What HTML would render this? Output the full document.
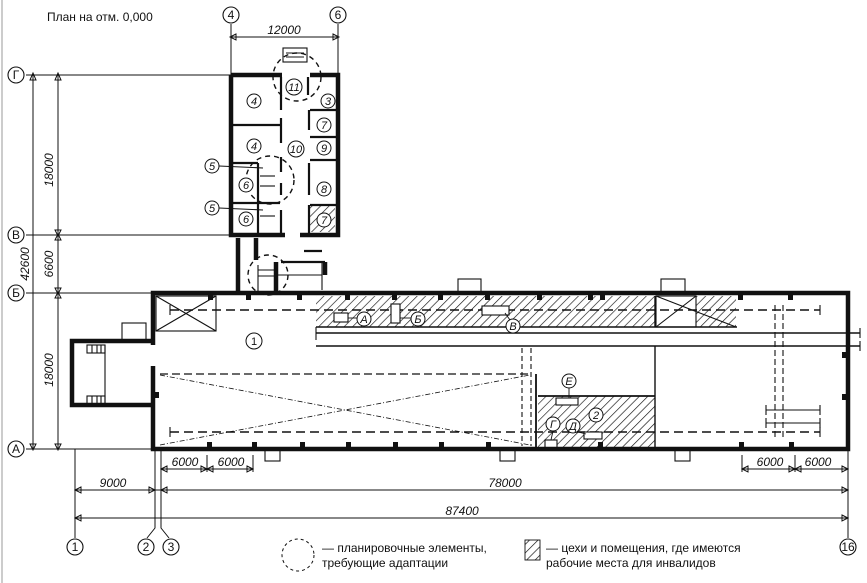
<!DOCTYPE html>
<html><head><meta charset="utf-8"><style>
html,body{margin:0;padding:0;background:#fff}
svg{display:block}
text{font-family:"Liberation Sans",sans-serif;fill:#111}
.it{font-style:italic}
</style></head><body>
<svg width="867" height="583" viewBox="0 0 867 583" xmlns="http://www.w3.org/2000/svg">
<defs>
<pattern id="h" patternUnits="userSpaceOnUse" width="6" height="6" patternTransform="rotate(45)">
<line x1="0" y1="0" x2="0" y2="6" stroke="#111" stroke-width="1.3"/>
</pattern>
</defs>
<line x1="2" y1="0" x2="2" y2="583" stroke="#999" stroke-width="1"/>
<text x="47" y="21" font-size="12">План на отм. 0,000</text>

<rect x="316" y="296" width="339" height="31" fill="url(#h)"/>
<rect x="696" y="296" width="40" height="31" fill="url(#h)"/>
<rect x="538" y="396" width="117" height="51" fill="url(#h)"/>
<rect x="309" y="206" width="26" height="26" fill="url(#h)"/>

<g stroke="#111" fill="none" stroke-width="1">
<line x1="26" y1="75" x2="231" y2="75"/>
<line x1="26" y1="235" x2="231" y2="235"/>
<line x1="26" y1="293" x2="153" y2="293"/>
<line x1="26" y1="449" x2="153" y2="449"/>
<line x1="33" y1="75" x2="33" y2="449"/>
<line x1="58" y1="75" x2="58" y2="449"/>
<line x1="231" y1="24" x2="231" y2="75"/>
<line x1="338" y1="24" x2="338" y2="75"/>
<line x1="231" y1="37" x2="338" y2="37"/>
<line x1="75" y1="449" x2="75" y2="538"/>
<path d="M155 449 V528 L147 538 M161 449 V528 L169 538"/>
<line x1="848" y1="449" x2="848" y2="538"/>
<line x1="75" y1="490" x2="848" y2="490"/>
<line x1="75" y1="518" x2="848" y2="518"/>
<line x1="161" y1="469" x2="253" y2="469"/>
<line x1="207" y1="455" x2="207" y2="472"/>
<line x1="253" y1="455" x2="253" y2="472"/>
<line x1="742" y1="469" x2="848" y2="469"/>
<line x1="742" y1="455" x2="742" y2="472"/>
<line x1="795" y1="455" x2="795" y2="472"/>
</g>
<g fill="none" stroke="#111" stroke-width="1">
<path d="M30 80 L33 73 L36 80Z M55 80 L58 73 L61 80Z M55 230 L58 236 L61 230Z M55 240 L58 234 L61 240Z M55 288 L58 294 L61 288Z M55 298 L58 292 L61 298Z M55 444 L58 450 L61 444Z M30 444 L33 450 L36 444Z"/>
<path d="M236 34 L230 37 L236 40Z M333 34 L339 37 L333 40Z"/>
<path d="M81 487 L75 490 L81 493Z M149 487 L155 490 L149 493Z M167 487 L161 490 L167 493Z M842 487 L848 490 L842 493Z"/>
<path d="M81 515 L75 518 L81 521Z M842 515 L848 518 L842 521Z"/>
<path d="M167 466 L161 469 L167 472Z M201 466 L207 469 L201 472Z M213 466 L207 469 L213 472Z M247 466 L253 469 L247 472Z"/>
<path d="M748 466 L742 469 L748 472Z M789 466 L795 469 L789 472Z M801 466 L795 469 L801 472Z M842 466 L848 469 L842 472Z"/>
</g>
<g font-size="12" class="it">
<text x="53" y="170" transform="rotate(-90 53 170)" text-anchor="middle">18000</text>
<text x="53" y="264" transform="rotate(-90 53 264)" text-anchor="middle">6600</text>
<text x="53" y="370" transform="rotate(-90 53 370)" text-anchor="middle">18000</text>
<text x="29" y="264" transform="rotate(-90 29 264)" text-anchor="middle">42600</text>
<text x="284" y="34" text-anchor="middle">12000</text>
<text x="113" y="487" text-anchor="middle">9000</text>
<text x="505" y="487" text-anchor="middle">78000</text>
<text x="462" y="515" text-anchor="middle">87400</text>
<text x="185" y="466" text-anchor="middle">6000</text>
<text x="231" y="466" text-anchor="middle">6000</text>
<text x="770" y="466" text-anchor="middle">6000</text>
<text x="818" y="466" text-anchor="middle">6000</text>
</g>
<g fill="#fff" stroke="#111" stroke-width="1.1">
<circle cx="16" cy="75" r="8"/><circle cx="16" cy="235" r="8"/><circle cx="16" cy="293" r="8"/><circle cx="16" cy="449" r="8"/>
<circle cx="231" cy="15" r="8"/><circle cx="338" cy="15" r="8"/>
<circle cx="75" cy="547" r="8"/><circle cx="146" cy="547" r="8"/><circle cx="171" cy="547" r="8"/><circle cx="848" cy="547" r="8"/>
</g>
<g font-size="12" text-anchor="middle">
<text x="16" y="79">Г</text><text x="16" y="239">В</text><text x="16" y="297">Б</text><text x="16" y="453">А</text>
<text x="231" y="19">4</text><text x="338" y="19">6</text>
<text x="75" y="551">1</text><text x="146" y="551">2</text><text x="171" y="551">3</text><text x="848" y="551">16</text>
</g>

<g stroke="#111" fill="none" stroke-width="1.1">
<line x1="170" y1="310" x2="820" y2="310" stroke-width="1.6" stroke-dasharray="9,5"/>
<line x1="170" y1="432" x2="820" y2="432" stroke-width="1.6" stroke-dasharray="9,5"/>
<line x1="160" y1="374" x2="530" y2="374" stroke-width="1.2" stroke-dasharray="8,4"/>
<line x1="160" y1="375" x2="530" y2="445" stroke-width="0.8" stroke-dasharray="5,2,1,2"/>
<line x1="160" y1="445" x2="530" y2="375" stroke-width="0.8" stroke-dasharray="5,2,1,2"/>
<line x1="170" y1="305" x2="170" y2="315"/><line x1="820" y1="305" x2="820" y2="315"/>
<line x1="170" y1="427" x2="170" y2="437"/><line x1="820" y1="427" x2="820" y2="437"/>
<line x1="316" y1="333" x2="860" y2="333" stroke-width="1.4"/>
<line x1="316" y1="346" x2="860" y2="346" stroke-width="1.4"/>
<line x1="316" y1="327" x2="316" y2="340"/>
<line x1="860" y1="328" x2="860" y2="338"/><line x1="860" y1="341" x2="860" y2="351"/>
<line x1="316" y1="327" x2="655" y2="327" stroke-width="1.4"/>
<line x1="655" y1="346" x2="655" y2="449" stroke-width="1.4"/>
<line x1="655" y1="296" x2="655" y2="327" stroke-width="1.4"/>
<line x1="655" y1="327" x2="737" y2="327" stroke-width="1.4"/>
<line x1="538" y1="396" x2="655" y2="396" stroke-width="1.8"/>
<line x1="536" y1="374" x2="536" y2="447" stroke-width="1.8"/>
<line x1="522" y1="348" x2="522" y2="446" stroke-dasharray="5,3"/>
<line x1="531" y1="348" x2="531" y2="446" stroke-dasharray="5,3"/>
<line x1="775" y1="305" x2="775" y2="440" stroke-dasharray="6,3"/>
<line x1="783" y1="305" x2="783" y2="440" stroke-dasharray="6,3"/>
<line x1="766" y1="410" x2="820" y2="410"/><line x1="766" y1="423" x2="820" y2="423"/>
<line x1="766" y1="405" x2="766" y2="415"/><line x1="820" y1="405" x2="820" y2="415"/>
<line x1="766" y1="418" x2="766" y2="428"/><line x1="820" y1="418" x2="820" y2="428"/>
<rect x="156" y="296" width="60" height="35"/>
<line x1="156" y1="296" x2="216" y2="331"/><line x1="156" y1="331" x2="216" y2="296"/>
<rect x="656" y="296" width="40" height="31"/>
<line x1="656" y1="296" x2="736" y2="327"/><line x1="656" y1="327" x2="696" y2="296"/>
<rect x="334" y="313" width="14" height="9" fill="#fff"/>
<rect x="391" y="304" width="9" height="19" fill="#fff"/>
<rect x="482" y="306" width="27" height="9" fill="#fff"/>
<rect x="556" y="398" width="22" height="7" fill="#fff"/>
<rect x="584" y="432" width="18" height="7" fill="#fff"/>
<rect x="545" y="440" width="12" height="8" fill="#fff"/>
<rect x="458" y="279" width="23" height="14"/>
<rect x="661" y="279" width="24" height="14"/>
<rect x="122" y="323" width="24" height="17"/>
<rect x="265" y="449" width="15" height="12"/>
<rect x="500" y="449" width="15" height="12"/>
<rect x="675" y="449" width="15" height="12"/>
<line x1="105" y1="345" x2="105" y2="403"/>
<rect x="87" y="345" width="18" height="8"/><rect x="87" y="396" width="18" height="8"/>
<line x1="92" y1="345" x2="92" y2="353"/><line x1="97" y1="345" x2="97" y2="353"/><line x1="101" y1="345" x2="101" y2="353"/>
<line x1="92" y1="396" x2="92" y2="404"/><line x1="97" y1="396" x2="97" y2="404"/><line x1="101" y1="396" x2="101" y2="404"/>
<rect x="283" y="48" width="24" height="14"/>
<line x1="286" y1="53" x2="304" y2="53"/><line x1="286" y1="57" x2="304" y2="57"/>
<line x1="258" y1="265" x2="258" y2="293"/>
<line x1="258" y1="270" x2="276" y2="270"/><line x1="258" y1="276" x2="276" y2="276"/>
<line x1="260" y1="176" x2="275" y2="176"/><line x1="260" y1="186" x2="275" y2="186"/>
<line x1="260" y1="216" x2="275" y2="216"/>
<line x1="219" y1="166" x2="263" y2="168"/>
<line x1="219" y1="208" x2="263" y2="210"/>
<line x1="275" y1="275" x2="322" y2="275"/>
<line x1="322" y1="262" x2="322" y2="290"/>
</g>

<g stroke="#111" fill="none" stroke-width="4.5">
<path d="M153 345 V293 H848 V449 H153 V366"/>
<path d="M153 341 H72 V405 H153"/>
<path d="M231 75 H282 M310 75 H338 V235 H300 M285 235 H231 V75"/>
<path d="M238 238 V293 M256 238 V260 M276 262 V293 M325 262 V275"/>
</g>
<g stroke="#111" stroke-width="2.2" fill="none">
<line x1="231" y1="125" x2="282" y2="125"/>
<line x1="231" y1="163" x2="258" y2="163"/>
<line x1="231" y1="203" x2="280" y2="203"/>
<line x1="258" y1="163" x2="258" y2="233"/>
<line x1="281" y1="77" x2="281" y2="110"/>
<line x1="281" y1="118" x2="281" y2="143"/>
<line x1="281" y1="157" x2="281" y2="172"/>
<line x1="281" y1="183" x2="281" y2="195"/>
<line x1="281" y1="210" x2="281" y2="233"/>
<line x1="308" y1="77" x2="308" y2="95"/>
<line x1="310" y1="110" x2="338" y2="110"/>
<line x1="310" y1="137" x2="338" y2="137"/>
<line x1="310" y1="160" x2="338" y2="160"/>
<line x1="310" y1="205" x2="338" y2="205"/>
<line x1="309" y1="110" x2="309" y2="130"/>
<line x1="309" y1="163" x2="309" y2="195"/>
<line x1="309" y1="205" x2="309" y2="233"/>
<line x1="304" y1="251" x2="322" y2="251"/>
<line x1="281" y1="262" x2="325" y2="262"/>
</g>
<g fill="#111">
<rect x="208" y="294" width="5" height="6"/><rect x="246" y="294" width="5" height="6"/><rect x="297" y="294" width="5" height="6"/><rect x="345" y="294" width="5" height="6"/><rect x="392" y="294" width="5" height="6"/><rect x="438" y="294" width="5" height="6"/><rect x="485" y="294" width="5" height="6"/><rect x="537" y="294" width="5" height="6"/><rect x="588" y="294" width="5" height="6"/><rect x="600" y="294" width="5" height="6"/><rect x="738" y="294" width="5" height="6"/><rect x="788" y="294" width="5" height="6"/>
<rect x="207" y="442" width="5" height="6"/><rect x="252" y="442" width="5" height="6"/><rect x="300" y="442" width="5" height="6"/><rect x="346" y="442" width="5" height="6"/><rect x="393" y="442" width="5" height="6"/><rect x="439" y="442" width="5" height="6"/><rect x="486" y="442" width="5" height="6"/><rect x="598" y="442" width="5" height="6"/><rect x="739" y="442" width="5" height="6"/><rect x="789" y="442" width="5" height="6"/>
<rect x="154" y="392" width="5" height="6"/><rect x="842" y="352" width="5" height="6"/><rect x="842" y="394" width="5" height="6"/>
</g>
<g fill="none" stroke="#111" stroke-width="1.4" stroke-dasharray="5,4">
<circle cx="297" cy="77" r="24"/>
<circle cx="270" cy="180" r="24"/>
<circle cx="268" cy="275" r="20"/>
<circle cx="298" cy="555" r="16" stroke-width="1" stroke-dasharray="3,3"/>
</g>
<g fill="#fff" stroke="#111" stroke-width="1">
<circle cx="254" cy="101" r="7"/><circle cx="254" cy="146" r="7"/><circle cx="294" cy="87" r="8"/><circle cx="328" cy="101" r="7"/>
<circle cx="324" cy="125" r="7"/><circle cx="296" cy="149" r="8"/><circle cx="324" cy="148" r="7"/><circle cx="324" cy="189" r="7"/>
<circle cx="324" cy="220" r="7"/><circle cx="246" cy="185" r="7"/><circle cx="246" cy="219" r="7"/>
<circle cx="212" cy="166" r="7"/><circle cx="212" cy="208" r="7"/>
<circle cx="254" cy="341" r="8"/><circle cx="596" cy="415" r="7"/>
<circle cx="364" cy="319" r="7"/><circle cx="418" cy="319" r="7"/><circle cx="513" cy="326" r="7"/>
<circle cx="569" cy="381" r="7"/><circle cx="553" cy="424" r="7"/><circle cx="573" cy="426" r="7"/>
</g>
<g font-size="11" class="it" text-anchor="middle">
<text x="254" y="105">4</text><text x="254" y="150">4</text><text x="294" y="91">11</text><text x="328" y="105">3</text>
<text x="324" y="129">7</text><text x="296" y="153">10</text><text x="324" y="152">9</text><text x="324" y="193">8</text>
<text x="324" y="224">7</text><text x="246" y="189">6</text><text x="246" y="223">6</text>
<text x="212" y="170">5</text><text x="212" y="212">5</text>
<text x="254" y="345" font-style="normal">1</text><text x="596" y="419">2</text>
<text x="364" y="323">А</text><text x="418" y="323">Б</text><text x="513" y="330">В</text>
<text x="569" y="385">Е</text><text x="553" y="428">Г</text><text x="573" y="430">Д</text>
</g>
<g stroke="#111" stroke-width="0.9">
<line x1="348" y1="318" x2="357" y2="318"/><line x1="400" y1="318" x2="411" y2="318"/><line x1="505" y1="313" x2="510" y2="320"/>
<line x1="569" y1="388" x2="569" y2="398"/><line x1="553" y1="431" x2="551" y2="440"/><line x1="578" y1="432" x2="586" y2="434"/>
</g>

<rect x="525" y="540" width="15" height="20" fill="url(#h)" stroke="#111" stroke-width="0.9"/>
<g font-size="12">
<text x="322" y="552">— планировочные элементы,</text>
<text x="322" y="567">требующие адаптации</text>
<text x="546" y="552">— цехи и помещения, где имеются</text>
<text x="546" y="567">рабочие места для инвалидов</text>
</g>
</svg>
</body></html>
